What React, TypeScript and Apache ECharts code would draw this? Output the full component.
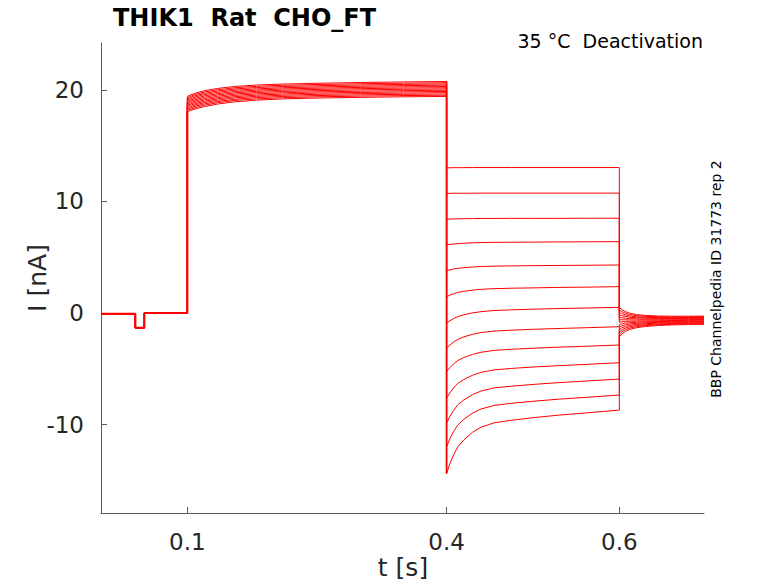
import React, { useEffect, useRef } from "react";
import * as echarts from "echarts";

// ---- data (time in s, current in nA) ----
const baseT = [0, 0.0398, 0.0398, 0.0502, 0.0502, 0.1];
const baseI = [-0.06, -0.06, -1.32, -1.32, 0.0, 0.0];

// activation step 0.1 .. 0.4 s (13 sweeps)
const actT = [0.1, 0.104, 0.11, 0.12, 0.135, 0.155, 0.18, 0.21, 0.25, 0.3, 0.35, 0.4];
const actI = [
  [19.40, 19.55, 19.72, 19.92, 20.12, 20.30, 20.42, 20.51, 20.58, 20.65, 20.70, 20.74],
  [19.29, 19.43, 19.60, 19.80, 20.00, 20.18, 20.31, 20.40, 20.47, 20.54, 20.59, 20.63],
  [19.18, 19.32, 19.48, 19.68, 19.89, 20.07, 20.20, 20.29, 20.36, 20.43, 20.48, 20.52],
  [19.06, 19.20, 19.37, 19.57, 19.77, 19.96, 20.08, 20.18, 20.25, 20.32, 20.37, 20.41],
  [18.95, 19.08, 19.25, 19.45, 19.65, 19.84, 19.97, 20.07, 20.14, 20.21, 20.26, 20.29],
  [18.84, 18.97, 19.13, 19.33, 19.54, 19.73, 19.86, 19.96, 20.03, 20.10, 20.15, 20.18],
  [18.72, 18.85, 19.01, 19.21, 19.42, 19.61, 19.75, 19.85, 19.92, 19.99, 20.04, 20.07],
  [18.61, 18.73, 18.89, 19.09, 19.30, 19.50, 19.63, 19.73, 19.81, 19.87, 19.92, 19.96],
  [18.50, 18.62, 18.77, 18.97, 19.19, 19.38, 19.52, 19.62, 19.70, 19.76, 19.81, 19.85],
  [18.39, 18.50, 18.66, 18.86, 19.07, 19.27, 19.41, 19.51, 19.59, 19.65, 19.70, 19.74],
  [18.27, 18.38, 18.54, 18.74, 18.95, 19.15, 19.30, 19.40, 19.48, 19.54, 19.59, 19.62],
  [18.16, 18.27, 18.42, 18.62, 18.84, 19.04, 19.18, 19.29, 19.37, 19.43, 19.48, 19.51],
  [18.05, 18.15, 18.30, 18.50, 18.72, 18.92, 19.07, 19.18, 19.26, 19.32, 19.37, 19.40],
];

// deactivation steps 0.4 .. 0.6 s
const deT = [0.4, 0.404, 0.408, 0.413, 0.42, 0.43, 0.44, 0.455, 0.475, 0.5, 0.53, 0.565, 0.6];
const deI = [
  [13.00, 13.01, 13.02, 13.02, 13.02, 13.03, 13.03, 13.03, 13.03, 13.03, 13.03, 13.03, 13.03],
  [10.72, 10.72, 10.73, 10.73, 10.73, 10.73, 10.74, 10.74, 10.74, 10.74, 10.74, 10.74, 10.74],
  [8.40, 8.41, 8.43, 8.44, 8.45, 8.46, 8.47, 8.47, 8.48, 8.48, 8.48, 8.49, 8.49],
  [6.10, 6.15, 6.18, 6.22, 6.25, 6.29, 6.31, 6.33, 6.34, 6.35, 6.37, 6.38, 6.39],
  [3.79, 3.87, 3.94, 4.00, 4.06, 4.12, 4.16, 4.20, 4.22, 4.24, 4.26, 4.28, 4.30],
  [1.46, 1.60, 1.72, 1.84, 1.94, 2.05, 2.12, 2.18, 2.22, 2.25, 2.29, 2.32, 2.36],
  [-0.92, -0.69, -0.51, -0.32, -0.16, 0.01, 0.12, 0.22, 0.28, 0.34, 0.40, 0.45, 0.51],
  [-3.17, -2.86, -2.61, -2.36, -2.14, -1.91, -1.75, -1.62, -1.54, -1.46, -1.39, -1.31, -1.23],
  [-5.26, -4.88, -4.57, -4.26, -3.99, -3.71, -3.52, -3.35, -3.25, -3.16, -3.06, -2.97, -2.87],
  [-7.65, -7.14, -6.72, -6.31, -5.96, -5.58, -5.32, -5.10, -4.97, -4.84, -4.72, -4.59, -4.46],
  [-9.89, -9.25, -8.74, -8.22, -7.79, -7.31, -6.99, -6.71, -6.56, -6.40, -6.24, -6.08, -5.92],
  [-11.99, -11.25, -10.64, -10.04, -9.53, -8.97, -8.60, -8.28, -8.09, -7.91, -7.72, -7.54, -7.35],
  [-14.38, -13.47, -12.73, -11.99, -11.37, -10.69, -10.23, -9.84, -9.61, -9.38, -9.15, -8.93, -8.70],
];

// tail 0.6 .. end
const tailT = [0.6, 0.603, 0.607, 0.612, 0.62, 0.63, 0.645, 0.66, 0.68, 0.698];
const tailI = [
  [0.48, 0.30, 0.13, -0.02, -0.14, -0.22, -0.27, -0.29, -0.29, -0.28],
  [0.26, 0.12, -0.02, -0.14, -0.24, -0.30, -0.34, -0.36, -0.35, -0.34],
  [0.05, -0.06, -0.17, -0.26, -0.34, -0.39, -0.41, -0.42, -0.41, -0.40],
  [-0.17, -0.25, -0.31, -0.38, -0.43, -0.47, -0.48, -0.49, -0.48, -0.46],
  [-0.39, -0.43, -0.46, -0.50, -0.53, -0.55, -0.55, -0.55, -0.54, -0.52],
  [-0.61, -0.61, -0.61, -0.62, -0.63, -0.63, -0.62, -0.62, -0.60, -0.58],
  [-0.83, -0.79, -0.76, -0.74, -0.73, -0.72, -0.70, -0.68, -0.66, -0.64],
  [-1.04, -0.97, -0.91, -0.87, -0.83, -0.80, -0.77, -0.75, -0.72, -0.71],
  [-1.26, -1.15, -1.06, -0.99, -0.93, -0.88, -0.84, -0.81, -0.78, -0.77],
  [-1.48, -1.33, -1.21, -1.11, -1.03, -0.96, -0.91, -0.88, -0.84, -0.83],
  [-1.70, -1.52, -1.35, -1.23, -1.12, -1.05, -0.98, -0.94, -0.91, -0.89],
  [-1.91, -1.70, -1.50, -1.35, -1.22, -1.13, -1.05, -1.01, -0.97, -0.95],
  [-2.13, -1.88, -1.65, -1.47, -1.32, -1.21, -1.12, -1.07, -1.03, -1.01],
];

const xTicks = [0.1, 0.4, 0.6];
const yTicks = [-10, 0, 10, 20];

const TITLE = "THIK1  Rat  CHO_FT";
const SUBTITLE = "35 °C  Deactivation";
const SIDE_NOTE = "BBP Channelpedia ID 31773 rep 2";
const X_NAME = "t [s]";
const Y_NAME = "I [nA]";

const FONT = "DejaVu Sans";
const AXIS_COLOR = "#5c5c5c";
const TEXT_COLOR = "#262626";
const TRACE_COLOR = "#ff0000";

function buildTrace(k: number): number[][] {
  const pts: number[][] = [];
  baseT.forEach((t, i) => pts.push([t, baseI[i]]));
  actT.forEach((t, i) => pts.push([t, actI[k][i]]));
  deT.forEach((t, i) => pts.push([t, deI[k][i]]));
  tailT.forEach((t, i) => pts.push([t, tailI[k][i]]));
  return pts;
}

export default function App() {
  const ref = useRef<HTMLDivElement>(null);
  useEffect(() => {
    if (!ref.current) return;
    const chart = echarts.init(ref.current, null, { renderer: "svg" });
    const last = actI.length - 1;
    const series: any[] = deI.map((_, k) => ({
      type: "line",
      data: buildTrace(k),
      showSymbol: false,
      symbol: "none",
      silent: true,
      lineStyle: { color: TRACE_COLOR, width: 1 },
    }));
    // overlapping sweeps make the common baseline and step edges look heavier
    const baseOverlay: number[][] = baseT.map((t, i) => [t, baseI[i]]);
    baseOverlay.push([actT[0], actI[last][0]]);
    series.push({
      type: "line",
      data: baseOverlay,
      showSymbol: false,
      symbol: "none",
      silent: true,
      lineStyle: { color: TRACE_COLOR, width: 2 },
    });
    series.push({
      type: "line",
      data: [
        [deT[0], actI[0][actT.length - 1]],
        [deT[0], deI[deI.length - 1][0]],
      ],
      showSymbol: false,
      symbol: "none",
      silent: true,
      lineStyle: { color: TRACE_COLOR, width: 1.8 },
    });
    chart.setOption({
      animation: false,
      grid: { left: 101, top: 43, width: 603, height: 470, containLabel: false },
      xAxis: {
        type: "value",
        min: 0,
        max: 0.698,
        splitLine: { show: false },
        axisLine: { show: true, onZero: false, lineStyle: { color: AXIS_COLOR, width: 1 } },
        axisTick: { show: true, inside: true, length: 6, customValues: xTicks, lineStyle: { color: AXIS_COLOR } },
        axisLabel: {
          customValues: xTicks,
          fontFamily: FONT,
          fontSize: 23,
          color: TEXT_COLOR,
          margin: 17,
        },
      },
      yAxis: {
        type: "value",
        min: -17.92,
        max: 24.19,
        splitLine: { show: false },
        axisLine: { show: true, onZero: false, lineStyle: { color: AXIS_COLOR, width: 1 } },
        axisTick: { show: true, inside: true, length: 6, customValues: yTicks, lineStyle: { color: AXIS_COLOR } },
        axisLabel: {
          customValues: yTicks,
          fontFamily: FONT,
          fontSize: 23,
          color: TEXT_COLOR,
          margin: 17,
        },
      },
      series,
      graphic: [
        {
          type: "text",
          x: 113,
          y: 18,
          style: {
            text: TITLE,
            fontFamily: FONT,
            fontWeight: "bold",
            fontSize: 24,
            fill: "#000",
            align: "left",
            verticalAlign: "middle",
          },
        },
        {
          type: "text",
          x: 703,
          y: 41,
          style: {
            text: SUBTITLE,
            fontFamily: FONT,
            fontSize: 19,
            fill: "#000",
            align: "right",
            verticalAlign: "middle",
          },
        },
        {
          type: "text",
          x: 716,
          y: 279,
          rotation: Math.PI / 2,
          style: {
            text: SIDE_NOTE,
            fontFamily: FONT,
            fontSize: 14,
            fill: "#000",
            align: "center",
            verticalAlign: "middle",
          },
        },
        {
          type: "text",
          x: 37,
          y: 278,
          rotation: Math.PI / 2,
          style: {
            text: Y_NAME,
            fontFamily: FONT,
            fontSize: 25,
            fill: TEXT_COLOR,
            align: "center",
            verticalAlign: "middle",
          },
        },
        {
          type: "text",
          x: 403,
          y: 567,
          style: {
            text: X_NAME,
            fontFamily: FONT,
            fontSize: 25,
            fill: TEXT_COLOR,
            align: "center",
            verticalAlign: "middle",
          },
        },
      ],
    });
    return () => chart.dispose();
  }, []);
  return (
    <div
      ref={ref}
      style={{ position: "fixed", left: 0, top: 0, width: 778, height: 583, background: "#fff" }}
    />
  );
}
